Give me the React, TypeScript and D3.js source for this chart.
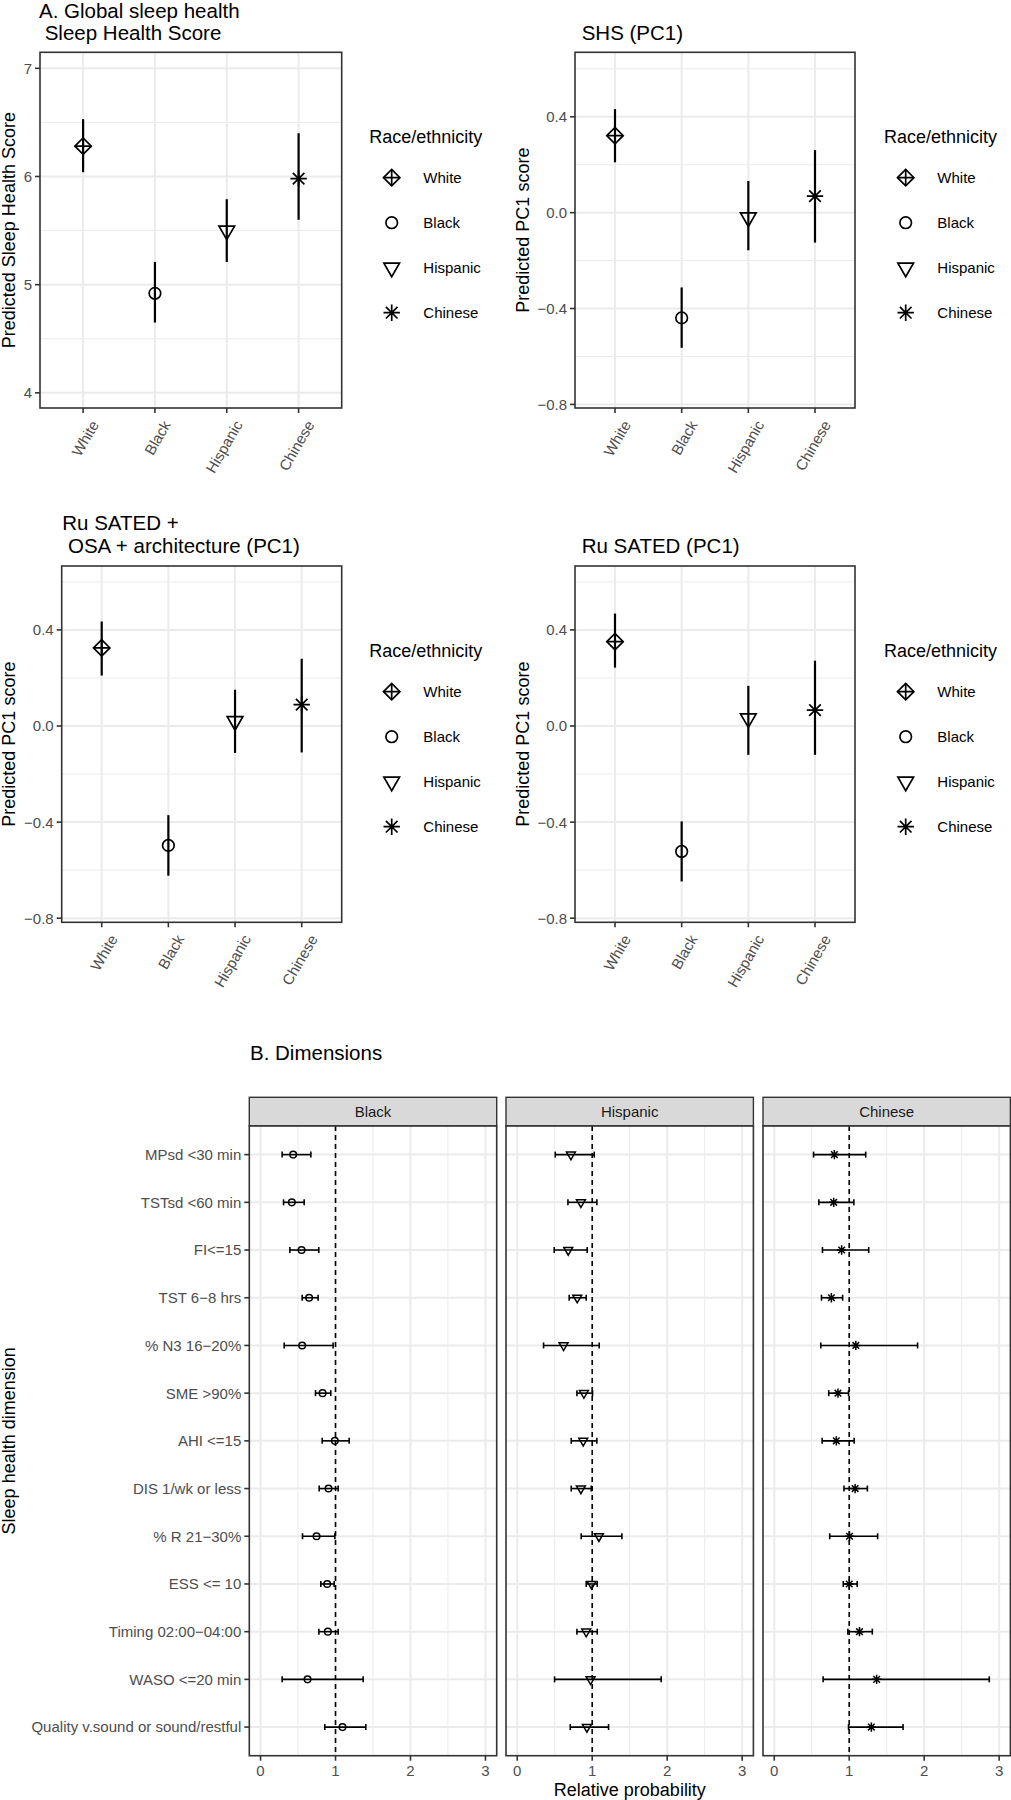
import React from "react";
import * as d3 from "d3";

// ---------------- DATA ----------------
const races = ["White", "Black", "Hispanic", "Chinese"];

// Panel A1: Sleep Health Score
const shsEst = [6.28, 4.92, 5.5, 5.98];
const shsLo = [6.04, 4.65, 5.21, 5.6];
const shsHi = [6.53, 5.21, 5.79, 6.4];
const scoreTicks = [4, 5, 6, 7];
const scoreMinor = [4.5, 5.5, 6.5];

// Panel A2: SHS (PC1)
const shsPcEst = [0.321, -0.439, -0.02, 0.069];
const shsPcLo = [0.21, -0.564, -0.157, -0.125];
const shsPcHi = [0.432, -0.312, 0.132, 0.261];

// Panel A3: Ru SATED + OSA + architecture (PC1)
const osaPcEst = [0.325, -0.497, 0.02, 0.089];
const osaPcLo = [0.21, -0.623, -0.112, -0.11];
const osaPcHi = [0.435, -0.371, 0.151, 0.28];

// Panel A4: Ru SATED (PC1)
const ruPcEst = [0.351, -0.522, 0.032, 0.066];
const ruPcLo = [0.243, -0.647, -0.12, -0.12];
const ruPcHi = [0.468, -0.397, 0.167, 0.272];

const pcTicks = [-0.8, -0.4, 0, 0.4];
const pcTickLabels = ["\u22120.8", "\u22120.4", "0.0", "0.4"];
const pcMinor = [-0.6, -0.2, 0.2, 0.6];

// Panel B: dimensions
const dimensions = [
  "MPsd <30 min",
  "TSTsd <60 min",
  "FI<=15",
  "TST 6\u22128 hrs",
  "% N3 16\u221220%",
  "SME >90%",
  "AHI <=15",
  "DIS 1/wk or less",
  "% R 21\u221230%",
  "ESS <= 10",
  "Timing 02:00\u221204:00",
  "WASO <=20 min",
  "Quality v.sound or sound/restful",
];
const facets = ["Black", "Hispanic", "Chinese"];

const blackEst = [0.435, 0.417, 0.547, 0.648, 0.555, 0.827, 0.991, 0.907, 0.747, 0.889, 0.898, 0.627, 1.093];
const blackLo = [0.288, 0.307, 0.391, 0.555, 0.315, 0.733, 0.822, 0.782, 0.56, 0.804, 0.778, 0.288, 0.857];
const blackHi = [0.671, 0.582, 0.777, 0.768, 0.968, 0.937, 1.182, 1.035, 0.991, 0.982, 1.035, 1.369, 1.404];

const hispEst = [0.716, 0.849, 0.68, 0.8, 0.618, 0.889, 0.88, 0.849, 1.089, 0.991, 0.92, 0.978, 0.929];
const hispLo = [0.507, 0.676, 0.493, 0.693, 0.351, 0.796, 0.72, 0.72, 0.853, 0.92, 0.796, 0.498, 0.707];
const hispHi = [1.027, 1.062, 0.933, 0.92, 1.093, 1.004, 1.062, 0.987, 1.396, 1.067, 1.067, 1.92, 1.218];

const chinEst = [0.802, 0.793, 0.899, 0.762, 1.088, 0.85, 0.828, 1.079, 1.004, 1.0, 1.137, 1.366, 1.295];
const chinLo = [0.524, 0.595, 0.643, 0.63, 0.621, 0.727, 0.639, 0.93, 0.74, 0.921, 0.982, 0.652, 0.991];
const chinHi = [1.22, 1.062, 1.26, 0.912, 1.912, 0.991, 1.066, 1.242, 1.379, 1.106, 1.308, 2.868, 1.718];

const relTicks = [0, 1, 2, 3];
const relMinor = [0.5, 1.5, 2.5];

// ---------------- STYLE ----------------
const FONT = "'Liberation Sans', Arial, Helvetica, sans-serif";
const GRID = "#EBEBEB";
const BORDER = "#333333";
const TICKTXT = "#4D4D4D";

function Marker({ race, cx, cy, r, sw }: { race: string; cx: number; cy: number; r: number; sw: number }) {
  const common = { stroke: "#000", strokeWidth: sw, fill: "none" };
  if (race === "White") {
    const s = Math.SQRT2 * r;
    return (
      <g>
        <path d={`M${cx - s},${cy}L${cx},${cy - s}L${cx + s},${cy}L${cx},${cy + s}Z`} {...common} />
        <path d={`M${cx - s},${cy}L${cx + s},${cy}M${cx},${cy - s}L${cx},${cy + s}`} {...common} />
      </g>
    );
  }
  if (race === "Black") {
    return <circle cx={cx} cy={cy} r={r} {...common} />;
  }
  if (race === "Hispanic") {
    const xc = 1.3468 * r;
    const yc = 0.7776 * r;
    const rr = 1.5551 * r;
    return <path d={`M${cx - xc},${cy - yc}L${cx + xc},${cy - yc}L${cx},${cy + rr}Z`} {...common} />;
  }
  const a = r;
  const b = Math.SQRT2 * r;
  return (
    <path
      d={`M${cx - a},${cy - a}L${cx + a},${cy + a}M${cx - a},${cy + a}L${cx + a},${cy - a}M${cx - b},${cy}L${cx + b},${cy}M${cx},${cy - b}L${cx},${cy + b}`}
      {...common}
    />
  );
}

type PanelCfg = {
  left: number;
  right: number;
  top: number;
  bottom: number;
  domain: [number, number];
  ticks: number[];
  tickLabels: string[];
  minor: number[];
  titleLines: string[];
  titleX: number;
  titleBase: number[];
  ylab: string;
  ylabX: number;
  legTitleX: number;
  legTitleY: number;
  legKeyX: number;
  legTextX: number;
  legKeyY0: number;
  est: number[];
  lo: number[];
  hi: number[];
};

function PanelA({ c }: { c: PanelCfg }) {
  const x = d3.scalePoint<string>().domain(races).range([c.left, c.right]).padding(0.6);
  const y = d3.scaleLinear().domain(c.domain).range([c.bottom, c.top]);
  const R = 5.8;
  return (
    <g fontFamily={FONT}>
      {c.titleLines.map((t, i) => (
        <text key={t} x={c.titleX} y={c.titleBase[i]} fontSize={20.5} fill="#000" style={{ whiteSpace: "pre" }}>
          {t}
        </text>
      ))}
      <rect x={c.left} y={c.top} width={c.right - c.left} height={c.bottom - c.top} fill="#fff" />
      {c.minor.map((v) => (
        <line key={"mn" + v} x1={c.left} x2={c.right} y1={y(v)} y2={y(v)} stroke={GRID} strokeWidth={1} />
      ))}
      {c.ticks.map((v) => (
        <line key={"mj" + v} x1={c.left} x2={c.right} y1={y(v)} y2={y(v)} stroke={GRID} strokeWidth={2} />
      ))}
      {races.map((r) => (
        <line key={"vx" + r} x1={x(r)} x2={x(r)} y1={c.top} y2={c.bottom} stroke={GRID} strokeWidth={2} />
      ))}
      {races.map((r, i) => (
        <g key={"pt" + r}>
          <line x1={x(r)} x2={x(r)} y1={y(c.lo[i])} y2={y(c.hi[i])} stroke="#000" strokeWidth={2.2} />
          <Marker race={r} cx={x(r)!} cy={y(c.est[i])} r={R} sw={1.7} />
        </g>
      ))}
      <rect x={c.left} y={c.top} width={c.right - c.left} height={c.bottom - c.top} fill="none" stroke={BORDER} strokeWidth={1.6} />
      {c.ticks.map((v, i) => (
        <g key={"yt" + v}>
          <line x1={c.left - 5} x2={c.left} y1={y(v)} y2={y(v)} stroke={BORDER} strokeWidth={1.6} />
          <text x={c.left - 8} y={y(v)} dy="0.36em" textAnchor="end" fontSize={15} fill={TICKTXT}>
            {c.tickLabels[i]}
          </text>
        </g>
      ))}
      {races.map((r) => (
        <g key={"xt" + r}>
          <line x1={x(r)} x2={x(r)} y1={c.bottom} y2={c.bottom + 5} stroke={BORDER} strokeWidth={1.6} />
          <text
            transform={`translate(${x(r)! + 7},${c.bottom + 11}) rotate(-60)`}
            dy="0.72em"
            textAnchor="end"
            fontSize={15}
            fill={TICKTXT}
          >
            {r}
          </text>
        </g>
      ))}
      <text
        transform={`translate(${c.ylabX},${(c.top + c.bottom) / 2}) rotate(-90)`}
        textAnchor="middle"
        fontSize={18}
        fill="#000"
      >
        {c.ylab}
      </text>
      <text x={c.legTitleX} y={c.legTitleY} fontSize={18} fill="#000">
        Race/ethnicity
      </text>
      {races.map((r, i) => (
        <g key={"lg" + r}>
          <Marker race={r} cx={c.legKeyX} cy={c.legKeyY0 + i * 45} r={R} sw={1.7} />
          <text x={c.legTextX} y={c.legKeyY0 + i * 45} dy="0.36em" fontSize={15} fill="#000">
            {r}
          </text>
        </g>
      ))}
    </g>
  );
}

const panelsA: PanelCfg[] = [
  {
    left: 40, right: 341.7, top: 52.3, bottom: 408,
    domain: [3.86, 7.148], ticks: scoreTicks, tickLabels: scoreTicks.map(String), minor: scoreMinor,
    titleLines: ["A. Global sleep health", " Sleep Health Score"], titleX: 39, titleBase: [17.5, 39.8],
    ylab: "Predicted Sleep Health Score", ylabX: 15,
    legTitleX: 369.3, legTitleY: 143, legKeyX: 391.7, legTextX: 423.3, legKeyY0: 177.7,
    est: shsEst, lo: shsLo, hi: shsHi,
  },
  {
    left: 575, right: 855, top: 52.3, bottom: 408,
    domain: [-0.815, 0.669], ticks: pcTicks, tickLabels: pcTickLabels, minor: pcMinor,
    titleLines: ["SHS (PC1)"], titleX: 581.7, titleBase: [39.8],
    ylab: "Predicted PC1 score", ylabX: 529,
    legTitleX: 884, legTitleY: 143, legKeyX: 905.7, legTextX: 937.3, legKeyY0: 177.7,
    est: shsPcEst, lo: shsPcLo, hi: shsPcHi,
  },
  {
    left: 61.7, right: 341.7, top: 566, bottom: 922.3,
    domain: [-0.817, 0.666], ticks: pcTicks, tickLabels: pcTickLabels, minor: pcMinor,
    titleLines: ["Ru SATED +", " OSA + architecture (PC1)"], titleX: 62.3, titleBase: [530, 553.3],
    ylab: "Predicted PC1 score", ylabX: 15,
    legTitleX: 369.3, legTitleY: 657, legKeyX: 391.7, legTextX: 423.3, legKeyY0: 691.7,
    est: osaPcEst, lo: osaPcLo, hi: osaPcHi,
  },
  {
    left: 575, right: 855, top: 566, bottom: 922.3,
    domain: [-0.817, 0.666], ticks: pcTicks, tickLabels: pcTickLabels, minor: pcMinor,
    titleLines: ["Ru SATED (PC1)"], titleX: 581.7, titleBase: [553.3],
    ylab: "Predicted PC1 score", ylabX: 529,
    legTitleX: 884, legTitleY: 657, legKeyX: 905.7, legTextX: 937.3, legKeyY0: 691.7,
    est: ruPcEst, lo: ruPcLo, hi: ruPcHi,
  },
];

const facetData: Record<string, { est: number[]; lo: number[]; hi: number[] }> = {
  Black: { est: blackEst, lo: blackLo, hi: blackHi },
  Hispanic: { est: hispEst, lo: hispLo, hi: hispHi },
  Chinese: { est: chinEst, lo: chinLo, hi: chinHi },
};

function PanelB() {
  const stripTop = 1097.3;
  const top = 1126;
  const bottom = 1755.7;
  const lefts = [249.3, 506, 763];
  const pw = 247.4;
  const y = d3.scalePoint<string>().domain(dimensions).range([top, bottom]).padding(0.6);
  return (
    <g fontFamily={FONT}>
      <text x={250} y={1060} fontSize={20.5} fill="#000">
        B. Dimensions
      </text>
      {facets.map((f, fi) => {
        const l = lefts[fi];
        const x = d3.scaleLinear().domain([-0.15, 3.15]).range([l, l + pw]);
        const d = facetData[f];
        return (
          <g key={f}>
            <rect x={l} y={stripTop} width={pw} height={top - stripTop} fill="#D9D9D9" stroke={BORDER} strokeWidth={1.4} />
            <text x={l + pw / 2} y={(stripTop + top) / 2} dy="0.36em" textAnchor="middle" fontSize={15} fill="#1A1A1A">
              {f}
            </text>
            <rect x={l} y={top} width={pw} height={bottom - top} fill="#fff" />
            {relMinor.map((v) => (
              <line key={"mn" + v} x1={x(v)} x2={x(v)} y1={top} y2={bottom} stroke={GRID} strokeWidth={1} />
            ))}
            {relTicks.map((v) => (
              <line key={"mj" + v} x1={x(v)} x2={x(v)} y1={top} y2={bottom} stroke={GRID} strokeWidth={2} />
            ))}
            {dimensions.map((dm) => (
              <line key={"hy" + dm} x1={l} x2={l + pw} y1={y(dm)} y2={y(dm)} stroke={GRID} strokeWidth={2} />
            ))}
            <line x1={x(1)} x2={x(1)} y1={top} y2={bottom} stroke="#000" strokeWidth={1.6} strokeDasharray="5,4" />
            {dimensions.map((dm, i) => {
              const yy = y(dm)!;
              return (
                <g key={"pt" + dm}>
                  <line x1={x(d.lo[i])} x2={x(d.hi[i])} y1={yy} y2={yy} stroke="#000" strokeWidth={1.6} />
                  <line x1={x(d.lo[i])} x2={x(d.lo[i])} y1={yy - 3} y2={yy + 3} stroke="#000" strokeWidth={1.6} />
                  <line x1={x(d.hi[i])} x2={x(d.hi[i])} y1={yy - 3} y2={yy + 3} stroke="#000" strokeWidth={1.6} />
                  <Marker race={f} cx={x(d.est[i])} cy={yy} r={3.3} sw={1.5} />
                </g>
              );
            })}
            <rect x={l} y={top} width={pw} height={bottom - top} fill="none" stroke={BORDER} strokeWidth={1.6} />
            {relTicks.map((v) => (
              <g key={"xt" + v}>
                <line x1={x(v)} x2={x(v)} y1={bottom} y2={bottom + 5} stroke={BORDER} strokeWidth={1.6} />
                <text x={x(v)} y={1775.5} textAnchor="middle" fontSize={15} fill={TICKTXT}>
                  {v}
                </text>
              </g>
            ))}
          </g>
        );
      })}
      {dimensions.map((dm) => (
        <g key={"yl" + dm}>
          <line x1={lefts[0] - 5} x2={lefts[0]} y1={y(dm)} y2={y(dm)} stroke={BORDER} strokeWidth={1.6} />
          <text x={lefts[0] - 8} y={y(dm)} dy="0.36em" textAnchor="end" fontSize={15} fill={TICKTXT}>
            {dm}
          </text>
        </g>
      ))}
      <text
        transform={`translate(15,${(top + bottom) / 2}) rotate(-90)`}
        textAnchor="middle"
        fontSize={18}
        fill="#000"
      >
        Sleep health dimension
      </text>
      <text x={(lefts[0] + lefts[2] + pw) / 2} y={1796} textAnchor="middle" fontSize={18} fill="#000">
        Relative probability
      </text>
    </g>
  );
}

export default function App() {
  return (
    <svg
      width={1011}
      height={1800}
      viewBox="0 0 1011 1800"
      style={{ position: "absolute", left: 0, top: 0, background: "#fff" }}
    >
      <rect x={0} y={0} width={1011} height={1800} fill="#fff" />
      {panelsA.map((c, i) => (
        <PanelA key={i} c={c} />
      ))}
      <PanelB />
    </svg>
  );
}
